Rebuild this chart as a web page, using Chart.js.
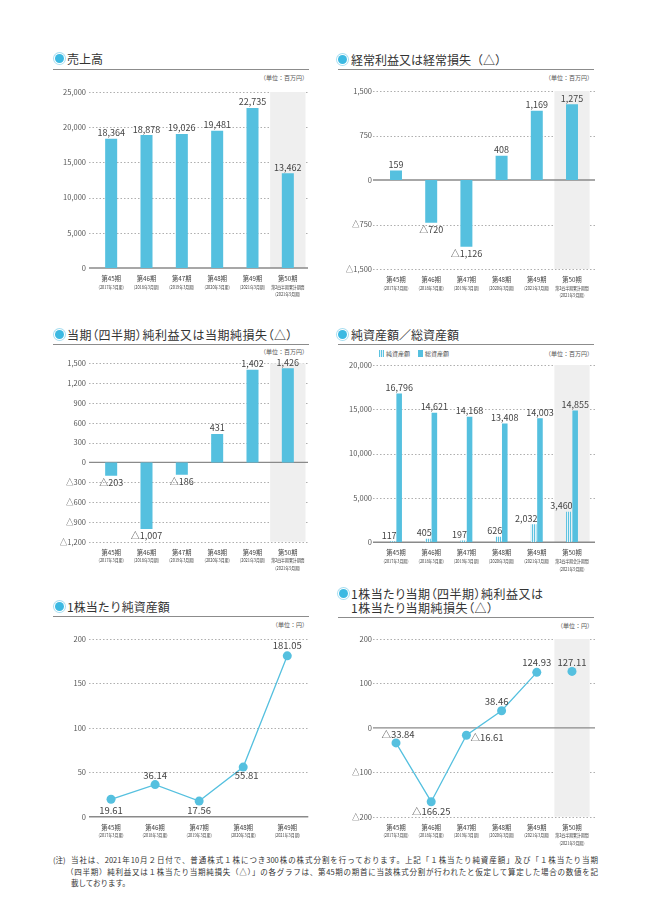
<!DOCTYPE html>
<html lang="ja">
<head>
<meta charset="utf-8">
<script src="https://cdn.jsdelivr.net/npm/chart.js@4.4.1/dist/chart.umd.min.js"></script>
<style>
  body { margin: 0; background: #fff; width: 648px; height: 915px; position: relative; overflow: hidden;
         font-family: "Noto Sans CJK JP", "Noto Sans", sans-serif; color: #333; }
  .title { position: absolute; font-size: 12px; line-height: 14px; white-space: nowrap; color: #333; }
  .palt { font-feature-settings: "palt"; letter-spacing: 0.5px; }
  .dot { position: absolute; width: 9px; height: 9px; border-radius: 50%; background: #3cb9e2;
         box-shadow: 0 0 0 1px #fff, 0 0 0 2px #a8def0; }
  .rule { position: absolute; height: 1px; background: #8c8c8c; }
  .unit { position: absolute; font-size: 6px; line-height: 8px; color: #555; white-space: nowrap; }
  .box { position: absolute; }
  .legend { position: absolute; font-size: 6px; line-height: 8px; color: #555; white-space: nowrap; }
  .ico { display: inline-block; width: 5px; height: 7px; vertical-align: -1px; margin-right: 2px; }
  .note { position: absolute; font-size: 7.5px; line-height: 11.5px; color: #333; white-space: nowrap; }
  .just { position: absolute; font-size: 7.5px; line-height: 11.5px; color: #333; text-align: justify; text-align-last: justify; }
</style>
</head>
<body>

<span class="dot" style="left:55px;top:54px"></span>
<div class="title" style="left:67px;top:52px">売上高</div>
<div class="rule" style="left:53px;top:69px;width:256px"></div>
<div class="unit" style="right:340px;top:74px">（単位：百万円）</div>
<div class="box" style="left:40px;top:80px"><canvas id="c1" width="275" height="230"></canvas></div>

<span class="dot" style="left:338px;top:55px"></span>
<div class="title" style="left:351px;top:53px">経常利益又は経常損失（△）</div>
<div class="rule" style="left:338px;top:69px;width:256px"></div>
<div class="unit" style="right:55px;top:74px">（単位：百万円）</div>
<div class="box" style="left:320px;top:80px"><canvas id="c2" width="280" height="230"></canvas></div>

<span class="dot" style="left:55px;top:330px"></span>
<div class="title palt" style="left:67px;top:328px">当期（四半期）純利益又は当期純損失（△）</div>
<div class="rule" style="left:53px;top:344px;width:256px"></div>
<div class="unit" style="right:340px;top:348px">（単位：百万円）</div>
<div class="box" style="left:40px;top:350px"><canvas id="c3" width="275" height="230"></canvas></div>

<span class="dot" style="left:338px;top:330px"></span>
<div class="title" style="left:351px;top:328px">純資産額／総資産額</div>
<div class="rule" style="left:338px;top:344px;width:256px"></div>
<div class="legend" style="left:379px;top:350px"><span class="ico" style="background:repeating-linear-gradient(90deg,#5bc2e0 0 1px,#dff2f9 1px 2px)"></span>純資産額</div>
<div class="legend" style="left:418px;top:350px"><span class="ico" style="background:#55c0df"></span>総資産額</div>
<div class="unit" style="right:55px;top:350px">（単位：百万円）</div>
<div class="box" style="left:320px;top:350px"><canvas id="c4" width="280" height="230"></canvas></div>

<span class="dot" style="left:55px;top:602px"></span>
<div class="title" style="left:67px;top:600px">1株当たり純資産額</div>
<div class="rule" style="left:53px;top:616px;width:256px"></div>
<div class="unit" style="right:340px;top:621px">（単位：円）</div>
<div class="box" style="left:40px;top:628px"><canvas id="c5" width="275" height="220"></canvas></div>

<span class="dot" style="left:339px;top:589px"></span>
<div class="title palt" style="left:351px;top:587px">1株当たり当期（四半期）純利益又は<br>1株当たり当期純損失（△）</div>
<div class="rule" style="left:338px;top:617px;width:256px"></div>
<div class="unit" style="right:55px;top:622px">（単位：円）</div>
<div class="box" style="left:320px;top:628px"><canvas id="c6" width="280" height="222"></canvas></div>

<div class="note" style="left:53px;top:854px">(注)</div>
<div class="just" style="left:71px;top:854px;width:527px">当社は、2021年10月２日付で、普通株式１株につき300株の株式分割を行っております。上記「１株当たり純資産額」及び「１株当たり当期</div>
<div class="just" style="left:66px;top:865.5px;width:532px">（四半期）純利益又は１株当たり当期純損失（△）」の各グラフは、第45期の期首に当該株式分割が行われたと仮定して算定した場合の数値を記</div>
<div class="note" style="left:71px;top:877px">載しております。</div>

<script>
// categories
const periods = ['第45期', '第46期', '第47期', '第48期', '第49期', '第50期'];
const fiscalYears = ['(2017年3月期)', '(2018年3月期)', '(2019年3月期)', '(2020年3月期)', '(2021年3月期)', '(2021年9月期)'];
const interimPL = '第2四半期累計期間';
const interimBS = '第2四半期会計期間';

// series (百万円 / 円)
const sales = [18364, 18878, 19026, 19481, 22735, 13462];
const ordinaryIncome = [159, -720, -1126, 408, 1169, 1275];
const netIncome = [-203, -1007, -186, 431, 1402, 1426];
const netAssets = [117, 405, 197, 626, 2032, 3460];
const totalAssets = [16796, 14621, 14168, 13408, 14003, 14855];
const bookValuePerShare = [19.61, 36.14, 17.56, 55.81, 181.05];
const earningsPerShare = [-33.84, -166.25, -16.61, 38.46, 124.93, 127.11];

// tick labels
const salesTicks = [0, 5000, 10000, 15000, 20000, 25000];
const ordinaryTicks = [-1500, -750, 0, 750, 1500];
const netIncomeTicks = [-1200, -900, -600, -300, 0, 300, 600, 900, 1200, 1500];
const assetTicks = [0, 5000, 10000, 15000, 20000];
const bpsTicks = [0, 50, 100, 150, 200];
const epsTicks = [-200, -100, 0, 100, 200];

const FONT = '"Noto Sans CJK JP", "Noto Sans", sans-serif';
const BLUE = '#55c0df';

function fmtInt(v) {
  const s = Math.abs(v).toLocaleString('en-US');
  return v < 0 ? '△' + s : s;
}
function fmtDec(v) {
  const s = Math.abs(v).toFixed(2);
  return v < 0 ? '△' + s : s;
}

function stripes() {
  const c = document.createElement('canvas');
  c.width = 2; c.height = 4;
  const g = c.getContext('2d');
  g.fillStyle = '#e2f3f9'; g.fillRect(0, 0, 2, 4);
  g.fillStyle = '#5bc2e0'; g.fillRect(0, 0, 1, 4);
  return g.createPattern(c, 'repeat');
}

// narrow text for the tiny period captions
function condensed(ctx, txt, x, y, sx) {
  ctx.save();
  ctx.translate(x, y);
  ctx.scale(sx, 1);
  ctx.fillText(txt, 0, 0);
  ctx.restore();
}

// grid, grey band for 第50期, value labels, two-size category labels
const pagePlugin = {
  id: 'page',
  beforeDatasetsDraw(chart, args, o) {
    const { ctx, chartArea: a, scales: { x, y } } = chart;
    ctx.save();
    ctx.strokeStyle = '#9a9a9a';
    ctx.lineWidth = 0.8;
    ctx.setLineDash([1.5, 2]);
    y.ticks.forEach(t => {
      if (t.value === 0) return;
      const py = Math.round(y.getPixelForValue(t.value)) + 0.5;
      ctx.beginPath();
      ctx.moveTo(a.left - o.gridL, py);
      ctx.lineTo(a.right + o.gridR, py);
      ctx.stroke();
    });
    ctx.setLineDash([]);
    if (o.shade !== undefined) {
      const c = x.getPixelForValue(o.shade);
      const half = (x.getPixelForValue(1) - x.getPixelForValue(0)) / 2;
      ctx.fillStyle = '#efefef';
      ctx.fillRect(c - half, a.top, half * 2, a.bottom - a.top);
    }
    const p0 = y.getPixelForValue(0);
    ctx.strokeStyle = '#8a8a8a';
    ctx.lineWidth = 1.4;
    ctx.beginPath();
    ctx.moveTo(a.left - o.gridL, p0);
    ctx.lineTo(a.right + o.gridR, p0);
    ctx.stroke();
    ctx.restore();
  },
  afterDatasetsDraw(chart, args, o) {
    const { ctx, chartArea: a, scales: { x } } = chart;
    ctx.save();
    ctx.fillStyle = '#444';
    ctx.textBaseline = 'middle';
    chart.data.datasets.forEach((ds, di) => {
      const lab = ds.valueLabel;
      if (!lab) return;
      const meta = chart.getDatasetMeta(di);
      meta.data.forEach((el, i) => {
        const v = ds.data[i];
        if (v === null || v === undefined) return;
        ctx.font = lab.size + 'px ' + FONT;
        const txt = lab.fmt(v);
        if (lab.mode === 'bar') {
          ctx.textAlign = 'center';
          ctx.fillText(txt, el.x, v < 0 ? el.y + 6.5 : el.y - 6);
        } else if (lab.mode === 'barRight') {
          ctx.textAlign = 'right';
          ctx.fillText(txt, el.x + el.width / 2 + 1, el.y - 6);
        } else {
          const off = lab.offsets[i];
          ctx.textAlign = off[2] || 'center';
          ctx.fillText(txt, el.x + off[0], el.y + off[1]);
        }
      });
    });
    // category labels
    ctx.fillStyle = '#444';
    ctx.textAlign = 'center';
    chart.data.labels.forEach((lbl, i) => {
      const px = x.getPixelForValue(i);
      ctx.font = '6.8px ' + FONT;
      condensed(ctx, lbl, px, a.bottom + 10.5, 0.92);
      ctx.font = '5px ' + FONT;
      if (o.last && i === 5) {
        condensed(ctx, o.last, px, a.bottom + 18.7, 0.78);
        condensed(ctx, fiscalYears[i], px, a.bottom + 26.3, 0.78);
      } else {
        condensed(ctx, fiscalYears[i], px, a.bottom + 18.7, 0.78);
      }
    });
    ctx.restore();
  }
};

function makeChart(id, type, labels, datasets, p) {
  return new Chart(id, {
    type: type,
    data: { labels: labels, datasets: datasets },
    options: {
      responsive: false,
      animation: false,
      events: [],
      layout: { padding: { top: p.top, right: p.right, bottom: 2, left: 0 } },
      plugins: {
        legend: { display: false },
        tooltip: { enabled: false },
        page: { gridL: p.gridL, gridR: p.gridR, shade: p.shade, last: p.last }
      },
      scales: {
        x: {
          offset: true,
          grid: { display: false, drawTicks: false },
          border: { display: false },
          ticks: { display: false },
          afterFit: s => { s.height = p.xh; }
        },
        y: {
          min: p.ticks[0],
          max: p.ticks[p.ticks.length - 1],
          grid: { display: false, drawTicks: false, tickLength: 0 },
          border: { display: false },
          afterBuildTicks: s => { s.ticks = p.ticks.map(v => ({ value: v })); },
          ticks: {
            padding: p.pad,
            color: '#555',
            font: { size: 7.5, family: FONT },
            callback: v => fmtInt(v)
          },
          afterFit: s => { s.width = p.yw; }
        }
      }
    },
    plugins: [pagePlugin]
  });
}

function barSet(data, size) {
  return {
    data: data,
    backgroundColor: BLUE,
    barPercentage: 0.34,
    categoryPercentage: 1,
    valueLabel: { mode: 'bar', size: size, fmt: fmtInt }
  };
}

const left = { right: 9.5, yw: 53.5, gridL: 4.5, gridR: 2.5 };
const right = { right: 10.4, yw: 58.4, gridL: 5.4, gridR: 5.4 };

makeChart('c1', 'bar', periods, [barSet(sales, 9)],
  Object.assign({}, left, { top: 10, xh: 40, pad: 7.5, ticks: salesTicks, shade: 5, last: interimPL }));

makeChart('c2', 'bar', periods, [barSet(ordinaryIncome, 9)],
  Object.assign({}, right, { top: 11, xh: 39, pad: 6.4, ticks: ordinaryTicks, shade: 5, last: interimPL }));

makeChart('c3', 'bar', periods, [barSet(netIncome, 9)],
  Object.assign({}, left, { top: 13.3, xh: 36.3, pad: 7.5, ticks: netIncomeTicks, shade: 5, last: interimPL }));

makeChart('c4', 'bar', periods, [
  { data: netAssets, backgroundColor: stripes(), barPercentage: 0.88, categoryPercentage: 0.36,
    valueLabel: { mode: 'barRight', size: 9, fmt: fmtInt } },
  { data: totalAssets, backgroundColor: BLUE, barPercentage: 0.88, categoryPercentage: 0.36,
    valueLabel: { mode: 'bar', size: 9, fmt: fmtInt } }
], Object.assign({}, right, { top: 15, xh: 35.7, pad: 6.4, ticks: assetTicks, shade: 5, last: interimBS }));

const lineStyle = {
  borderColor: BLUE, borderWidth: 1.3, backgroundColor: BLUE,
  pointRadius: 4.5, pointBorderWidth: 0, pointBackgroundColor: BLUE, tension: 0
};

makeChart('c5', 'line', periods.slice(0, 5), [
  Object.assign({}, lineStyle, {
    data: bookValuePerShare,
    valueLabel: { mode: 'point', size: 9.5, fmt: fmtDec,
      offsets: [[0, 11], [0, -9.5], [0, 9.6], [3.5, 8.6], [0, -10.7]] }
  })
], { right: 5.7, yw: 49, gridL: 0, gridR: -1, top: 11, xh: 29.3, pad: 3, ticks: bpsTicks });

makeChart('c6', 'line', periods, [
  Object.assign({}, lineStyle, {
    data: earningsPerShare.map((v, i) => (i < 5 ? v : null)),
    valueLabel: { mode: 'point', size: 9.5, fmt: fmtDec,
      offsets: [[2, -8.5], [0, 9.7], [4, 2, 'left'], [-5, -9.5], [0, -9.6]] }
  }),
  Object.assign({}, lineStyle, {
    data: earningsPerShare.map((v, i) => (i === 5 ? v : null)),
    valueLabel: { mode: 'point', size: 9.5, fmt: fmtDec,
      offsets: [0, 0, 0, 0, 0, [0, -9]] }
  })
], Object.assign({}, right, { top: 11, xh: 31.3, pad: 6.4, ticks: epsTicks, shade: 5, last: interimPL }));
</script>
</body>
</html>
